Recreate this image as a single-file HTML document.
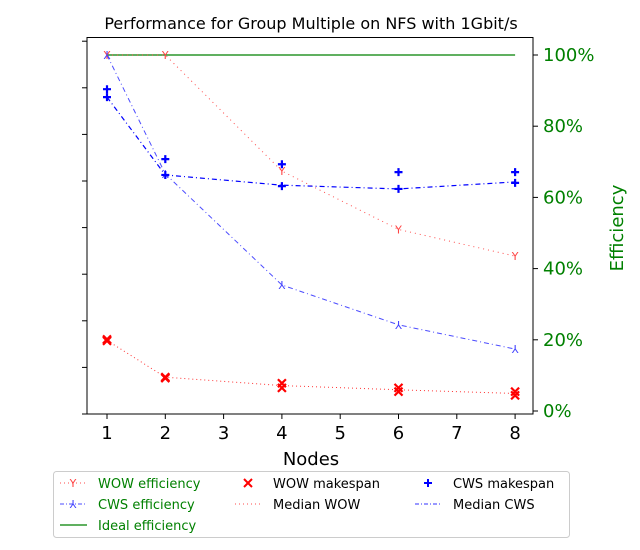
<!DOCTYPE html>
<html><head><meta charset="utf-8"><style>
body{margin:0;background:#fff;}
svg{display:block;font-family:"DejaVu Sans","Liberation Sans",sans-serif;}
</style></head><body>
<svg id="chart" width="640" height="550" viewBox="0 0 640 550">
<text x="311" y="29" text-anchor="middle" font-size="16">Performance for Group Multiple on NFS with 1Gbit/s</text>
<g id="plot"></g>
<text x="311" y="465" text-anchor="middle" font-size="18">Nodes</text>
<text transform="translate(623,228) rotate(-90)" text-anchor="middle" font-size="18" fill="green">Efficiency</text>
<g>
<rect x="53.5" y="471.5" width="516" height="66" rx="3" fill="#fff" stroke="#ccc"/>
<g>
<line x1="60" y1="483" x2="87" y2="483" stroke="red" stroke-width="1" stroke-dasharray="1,3" opacity="0.7"/>
<text x="73" y="487" text-anchor="middle" font-size="11" fill="#f44">Y</text>
<text x="98" y="488" font-size="13" fill="green">WOW efficiency</text></g>
<g>
<line x1="60" y1="504" x2="87" y2="504" stroke="blue" stroke-width="1" stroke-dasharray="4,2,1,2" opacity="0.7"/>
<text x="73" y="508" text-anchor="middle" font-size="11" fill="#44f">⅄</text>
<text x="98" y="509" font-size="13" fill="green">CWS efficiency</text></g>
<g>
<line x1="60" y1="525" x2="87" y2="525" stroke="green" stroke-width="1.3"/>
<text x="98" y="530" font-size="13" fill="green">Ideal efficiency</text></g>
<g>
<path d="M244,479 l8,8 M252,479 l-8,8" stroke="red" stroke-width="2"/>
<text x="273" y="488" font-size="13">WOW makespan</text></g>
<g>
<line x1="235" y1="504" x2="262" y2="504" stroke="red" stroke-width="1" stroke-dasharray="1,3" opacity="0.7"/>
<text x="273" y="509" font-size="13">Median WOW</text></g>
<g>
<path d="M428,479 v8 M424,483 h8" stroke="blue" stroke-width="2"/>
<text x="453" y="488" font-size="13">CWS makespan</text></g>
<g>
<line x1="415" y1="504" x2="442" y2="504" stroke="blue" stroke-width="1" stroke-dasharray="4,2,1,2" opacity="0.8"/>
<text x="453" y="509" font-size="13">Median CWS</text></g>
</g>
</svg>
<script>
const nodes=[1,2,4,6,8];
const wowEff=[100,100,67.4,51,43.5];
const cwsEff=[100,66.6,35.4,24.2,17.4];
const idealEff=[100,100,100,100,100];
const wowMakeA=[1.60,0.79,0.66,0.56,0.48];
const wowMakeB=[1.57,0.77,0.56,0.48,0.40];
const cwsMakeA=[6.97,5.47,5.36,5.19,5.19];
const cwsMakeB=[6.80,5.13,4.89,4.83,4.96];
const medWow=[1.58,0.79,0.61,0.52,0.44];
const medCws=[6.80,5.13,4.91,4.83,4.98];
const xTicks=[1,2,3,4,5,6,7,8];
const effTicks=[0,20,40,60,80,100];
const leftTicks=[0,1,2,3,4,5,6,7,8];
const NS="http://www.w3.org/2000/svg";
const X=v=>107+(v-1)*58.3;
const YE=v=>411-v*3.56;
const YL=v=>414-v*46.6;
const g=document.getElementById('plot');
function mk(t,a){const e=document.createElementNS(NS,t);for(const k in a)e.setAttribute(k,a[k]);g.appendChild(e);return e;}
const fr=mk('rect',{x:87,y:37.5,width:446,height:376.5,fill:'none',stroke:'#000','stroke-width':1});


xTicks.forEach(t=>{
 const l=mk('line',{x1:X(t),x2:X(t),y1:414,y2:419,stroke:'#000'});
 
 
 const tx=mk('text',{x:X(t),y:439,'text-anchor':'middle','font-size':18});
 tx.textContent=t;
 
 
});
leftTicks.forEach(t=>{
 const l=mk('line',{x1:82,x2:87,y1:YL(t),y2:YL(t),stroke:'#000'});
 
 
});
effTicks.forEach(t=>{
 const l=mk('line',{x1:533,x2:538,y1:YE(t),y2:YE(t),stroke:'#000'});
 
 
 const tx=mk('text',{x:543,y:YE(t)+6,'font-size':18,fill:'green'});
 tx.textContent=t+'%';
 
 
});
function line(vals,Y,attrs,name){
 const p=mk('polyline',Object.assign({points:nodes.map((n,i)=>X(n)+','+Y(vals[i])).join(' '),fill:'none'},attrs));
 
 
}
line(idealEff,YE,{stroke:'green','stroke-width':1.2},'ideal-efficiency-line');
line(wowEff,YE,{stroke:'red','stroke-dasharray':'1,4',opacity:0.7},'wow-efficiency-line');
line(cwsEff,YE,{stroke:'blue','stroke-dasharray':'5,3,1,3',opacity:0.7},'cws-efficiency-line');
line(medWow,YL,{stroke:'red','stroke-dasharray':'1,3',opacity:0.8},'median-wow-line');
line(medCws,YL,{stroke:'blue','stroke-dasharray':'5,3,1,3','stroke-width':1.2},'median-cws-line');
function marker(txt,x,y,col,name){
 const t=mk('text',{x:x,y:y+4,'text-anchor':'middle','font-size':11,fill:col});
 t.textContent=txt;
 
 
}
nodes.forEach((n,i)=>{
 marker('Y',X(n),YE(wowEff[i]),'#f44','wow-efficiency-point');
 marker('⅄',X(n),YE(cwsEff[i]),'#44f','cws-efficiency-point');
 [wowMakeA,wowMakeB].forEach(arr=>{
  const x=X(n),y=YL(arr[i]);
  const p=mk('path',{d:`M${x-4},${y-4}l8,8M${x+4},${y-4}l-8,8`,stroke:'red','stroke-width':2.2});
  
  
 });
 [cwsMakeA,cwsMakeB].forEach(arr=>{
  const x=X(n),y=YL(arr[i]);
  const p=mk('path',{d:`M${x},${y-4}v8M${x-4},${y}h8`,stroke:'blue','stroke-width':2.2});
  
  
 });
});
</script>
</body></html>
